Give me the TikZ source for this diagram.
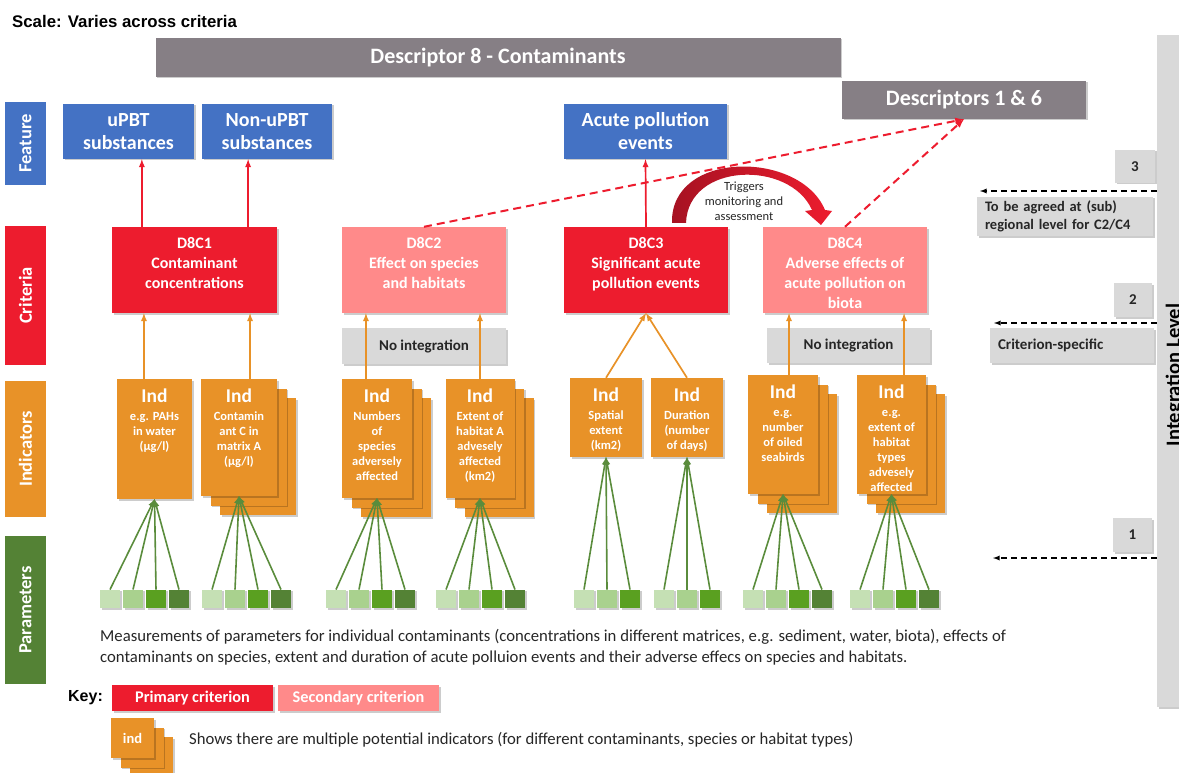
\documentclass[tikz,border=0pt]{standalone}
\usepackage{fontspec}
\setmainfont{Carlito}
\newfontfamily\arialfont{Liberation Sans}
\usetikzlibrary{arrows,scopes,shadows,calc}
\definecolor{featBlue}{RGB}{68,114,196}
\definecolor{critRed}{RGB}{237,28,46}
\definecolor{critPink}{RGB}{255,138,138}
\definecolor{indOrange}{RGB}{232,146,40}
\definecolor{parGreen}{RGB}{84,130,53}
\definecolor{lineGreen}{RGB}{90,140,60}
\definecolor{descGrey}{RGB}{134,127,133}
\definecolor{boxGrey}{RGB}{217,217,217}
\definecolor{textGrey}{RGB}{38,38,38}
\definecolor{trigDark}{RGB}{165,18,34}
\definecolor{pc1}{RGB}{197,224,180}
\definecolor{pc2}{RGB}{169,209,142}
\definecolor{pc3}{RGB}{90,160,32}
\definecolor{pc4}{RGB}{84,130,53}

\newcommand{\indtext}[1]{{\fontsize{19.5}{20}\selectfont Ind}\\[3.5pt]#1}

\tikzset{
  softshadow/.style={general shadow={shadow xshift=1.5pt, shadow yshift=-1.5pt, fill=black, draw=none, opacity=.2}},
  cardstack/.style={
    general shadow={shadow xshift=20.5pt, shadow yshift=-20.5pt, fill=black, draw=none, opacity=.2},
    general shadow={shadow xshift=19pt, shadow yshift=-19pt, fill=indOrange, draw=none},
    general shadow={shadow xshift=11pt, shadow yshift=-11pt, fill=black, draw=none, opacity=.2},
    general shadow={shadow xshift=9.5pt, shadow yshift=-9.5pt, fill=indOrange, draw=none}},
  topbox/.style n args={3}{execute at begin node={\begin{minipage}[c][#1][t]{#2}\centering\vspace*{#3}},
    execute at end node={\end{minipage}}}
}

\begin{document}
\begin{tikzpicture}[x=1pt, y=-1pt]
    \useasboundingbox (0,0) rectangle (1179,773);
    \clip (0,0) rectangle (1179,773);

    \node[font=\arialfont\fontsize{16.8}{18}\selectfont\bfseries, anchor=west, inner sep=0pt] (scale) at (12,21) {Scale: Varies across criteria};

    {[every node/.style={fill=descGrey, text=white, font=\fontsize{22}{24}\selectfont\bfseries, inner sep=0pt, softshadow}]
    \node[minimum width=685pt, minimum height=39pt] (D8) at (498,57.5) {Descriptor 8 - Contaminants};
    \node[minimum width=244pt, minimum height=38pt] (D16) at (964,100) {Descriptors 1 \& 6};
    }

    % row labels
    {[every node/.style={rotate=90, text=white, font=\fontsize{18.5}{20}\selectfont\bfseries, minimum height=41pt, inner sep=0pt}]
    \node[fill=featBlue, minimum width=83pt] (rowF) at (25.5,143.5) {Feature};
    \node[fill=critRed, minimum width=139pt] (rowC) at (25.5,295.5) {Criteria};
    \node[fill=indOrange, minimum width=136pt] (rowI) at (25.5,449) {Indicators};
    \node[fill=parGreen, minimum width=148pt] (rowP) at (25.5,610) {Parameters};
    }

    {[every node/.style={fill=featBlue, text=white, font=\fontsize{20}{23}\selectfont\bfseries, align=center, minimum height=55pt, inner sep=0pt, softshadow}]
    \node[minimum width=131pt] (uPBT) at (128.5,131.5) {uPBT\\substances};
    \node[minimum width=130pt] (nonuPBT) at (267,131.5) {Non-uPBT\\substances};
    \node[minimum width=163pt] (acute) at (645.5,131.5) {Acute pollution\\events};
    }

    {[every node/.style={text=white, font=\fontsize{16}{20}\selectfont\bfseries, minimum width=164pt, inner sep=0pt, topbox={86pt}{162pt}{10.5pt}, softshadow}]
    \node[fill=critRed, minimum width=165pt] (D8C1) at (194.5,270) {D8C1\\Contaminant\\concentrations};
    \node[fill=critPink] (D8C2) at (424,270) {D8C2\\Effect on species\\and habitats};
    \node[fill=critRed] (D8C3) at (646,270) {D8C3\\Significant acute\\pollution events};
    \node[fill=critPink] (D8C4) at (845,270) {D8C4\\Adverse effects of\\acute pollution on\\biota};
    }

    {[every node/.style={fill=boxGrey, text=textGrey, font=\fontsize{15}{18}\selectfont\bfseries, inner sep=0pt, softshadow}]
    \node[minimum width=164pt, minimum height=36pt] (noint2) at (424,346) {No integration};
    \node[minimum width=163pt, minimum height=35pt] (noint4) at (848.5,345.5) {No integration};
    \node[minimum width=40pt, minimum height=33pt] (lvl3) at (1135,166.5) {3};
    \node[minimum width=38pt, minimum height=34pt] (lvl2) at (1133,300) {2};
    \node[minimum width=39pt, minimum height=34pt] (lvl1) at (1132.5,535) {1};
    \node[minimum height=39pt, text width=160pt, inner xsep=8pt, align=left, font=\fontsize{14.5}{18.5}\selectfont\bfseries] (agreed) at (1065,216.5) {To be agreed at (sub)\\regional level for C2/C4};
    \node[minimum height=35pt, text width=148pt, inner xsep=8pt, align=left] (critspec) at (1072,345.5) {Criterion-specific};
    }

    \node[fill=boxGrey, minimum width=38pt, minimum height=672pt, inner sep=0pt, softshadow] (intbar) at (1176,371) {};
    \node[rotate=90, anchor=base, font=\fontsize{20.5}{24}\selectfont\bfseries, inner sep=0pt] (intlabel) at (1180,375) {Integration Level};

    % indicators
    {[every node/.style={fill=indOrange, text=white, font=\fontsize{12.5}{15}\selectfont\bfseries, inner sep=0pt}]
    \node[softshadow, minimum width=75pt, topbox={120pt}{64pt}{9.5pt}] (ind1) at (154.5,439) {\indtext{e.g. PAHs\\in water\\(µg/l)}};
    \node[cardstack, softshadow, minimum width=76pt, topbox={117pt}{64pt}{9.5pt}] (ind2) at (239,437.5) {\indtext{Contamin\\ant C in\\matrix A\\(µg/l)}};
    \node[cardstack, softshadow, minimum width=70pt, topbox={119pt}{64pt}{9.5pt}] (ind3) at (377,438.5) {\indtext{Numbers\\of\\species\\adversely\\affected}};
    \node[cardstack, softshadow, minimum width=69pt, topbox={119pt}{64pt}{9.5pt}] (ind4) at (480,438.5) {\indtext{Extent of\\habitat A\\advesely\\affected\\(km2)}};
    \node[softshadow, minimum width=72pt, topbox={79pt}{64pt}{9.5pt}] (ind5) at (606,417.5) {\indtext{Spatial\\extent\\(km2)}};
    \node[softshadow, minimum width=72pt, topbox={79pt}{64pt}{9.5pt}] (ind6) at (687,417.5) {\indtext{Duration\\(number\\of days)}};
    \node[cardstack, softshadow, minimum width=70pt, topbox={119pt}{64pt}{9.5pt}] (ind7) at (783,434.5) {\indtext{e.g.\\number\\of oiled\\seabirds}};
    \node[cardstack, softshadow, minimum width=69pt, topbox={119pt}{64pt}{9.5pt}] (ind8) at (891.5,434.5) {\indtext{e.g.\\extent of\\habitat\\types\\advesely\\affected}};
    }

    % parameters
    \foreach \g/\x/\n/\ind in {1/110/4/ind1, 2/212/4/ind2, 3/336/4/ind3, 4/446/4/ind4, 5/584/3/ind5, 6/664/3/ind6, 7/753/4/ind7, 8/860/4/ind8}{
      \foreach \i in {1,...,\n}{
        \node[fill=pc\i, minimum width=20pt, minimum height=18.5pt, inner sep=0pt, softshadow] (p\g-\i) at ({\x+23*(\i-1)},599) {};
        \draw[lineGreen, line width=1.6pt, -latex] (p\g-\i.north) -- (\ind.south);
      }
    }

    \node[anchor=north west, align=left, font=\fontsize{16.7}{21}\selectfont, text=textGrey, inner sep=0pt] (measure) at (100,629) {Measurements of parameters for individual contaminants (concentrations in different matrices, e.g. sediment, water, biota), effects of\\contaminants on species, extent and duration of acute polluion events and their adverse effecs on species and habitats.};

    % key
    \node[font=\arialfont\fontsize{16}{18}\selectfont\bfseries, inner sep=0pt] (keylabel) at (85.5,698) {Key:};
    {[every node/.style={text=white, font=\fontsize{16.3}{18}\selectfont\bfseries, minimum width=161pt, minimum height=26pt, inner sep=0pt, softshadow}]
    \node[fill=critRed] (keyprim) at (192.5,698) {Primary criterion};
    \node[fill=critPink] (keysec) at (358.5,698) {Secondary criterion};
    }
    \node[fill=indOrange, text=white, font=\fontsize{14.5}{16}\selectfont\bfseries, minimum width=43pt, minimum height=40pt, inner sep=0pt, cardstack, softshadow] (keyind) at (132.5,738) {ind};
    \node[anchor=west, font=\fontsize{16.7}{18}\selectfont, text=textGrey, inner sep=0pt] (keytext) at (189,740) {Shows there are multiple potential indicators (for different contaminants, species or habitat types)};

    % connectors
    \coordinate (c1a) at ($(D8C1.north west)!.1818!(D8C1.north east)$);
    \coordinate (c1b) at ($(D8C1.north west)!.8242!(D8C1.north east)$);
    {[critRed, line width=1.7pt, -latex]
      \draw (c1a) -- (c1a |- uPBT.south);
      \draw (c1b) -- (c1b |- nonuPBT.south);
      \draw (D8C3.north) -- (acute.south);
    }
    {[critRed, line width=2pt, dash pattern=on 8pt off 5pt, -latex]
      \draw (D8C2.north) -- (D16.south);
      \draw (D8C4.north) -- (D16.south);
    }

    \coordinate (o1) at ($(ind1.north west)!.36!(ind1.north east)$);
    \coordinate (o2) at ($(ind2.north west)!.6447!(ind2.north east)$);
    \coordinate (o3) at ($(ind3.north west)!.3429!(ind3.north east)$);
    \coordinate (o7) at ($(ind7.north west)!.5857!(ind7.north east)$);
    \coordinate (o8) at ($(ind8.north west)!.6812!(ind8.north east)$);
    {[indOrange, line width=1.7pt, -latex]
      \draw (o1) -- (o1 |- D8C1.south);
      \draw (o2) -- (o2 |- D8C1.south);
      \draw (o3) -- (o3 |- D8C2.south);
      \draw (ind4.north) -- (ind4.north |- D8C2.south);
      \draw (ind5.north) -- (D8C3.south);
      \draw (ind6.north) -- (D8C3.south);
      \draw (o7) -- (o7 |- D8C4.south);
      \draw (o8) -- (o8 |- D8C4.south);
    }

    \coordinate (tip3) at (980,191);
    \coordinate (tip2) at (994,323);
    \coordinate (tip1) at (993,558);
    {[black, line width=1.3pt, dash pattern=on 6pt off 4pt, -latex]
      \draw (intbar.west |- tip3) -- (tip3);
      \draw (intbar.west |- tip2) -- (tip2);
      \draw (intbar.west |- tip1) -- (tip1);
    }

    % triggers arrow
    \shade[left color=trigDark, right color=critRed]
      (672,223) .. controls (670,150) and (800,150) .. (825,210)
      -- (832,211) -- (821,225) -- (805,211) -- (812,210)
      .. controls (790,160) and (688,162) .. (686,223) -- cycle;
    \node[align=center, font=\fontsize{12.5}{15}\selectfont, text=textGrey, inner sep=0pt] (trig) at (744,201) {Triggers\\monitoring and\\assessment};
\end{tikzpicture}
\end{document}
